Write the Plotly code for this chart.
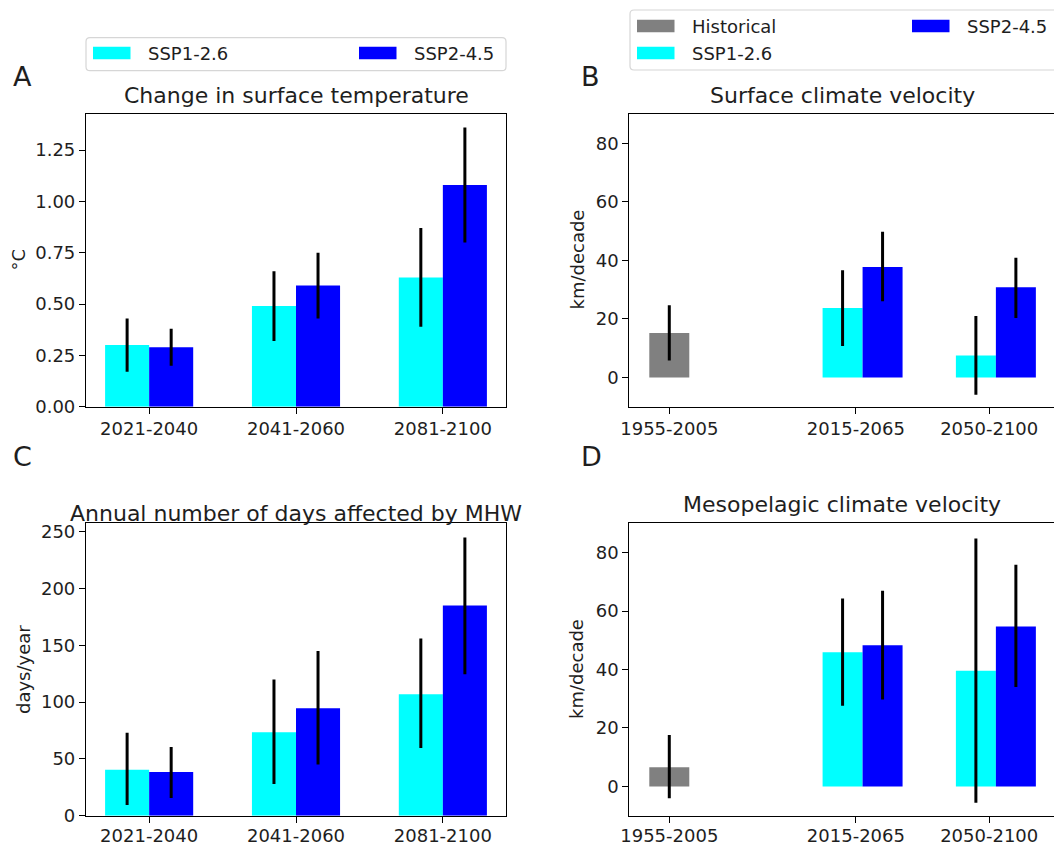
import plotly.graph_objects as go

# ---------------- data ----------------
periods_future = ["2021-2040", "2041-2060", "2081-2100"]
periods_velocity = ["1955-2005", "2015-2065", "2050-2100"]

# A: change in surface temperature (°C)
temp_ssp126 = [0.30, 0.49, 0.63]
temp_ssp126_lo = [0.17, 0.32, 0.39]
temp_ssp126_hi = [0.43, 0.66, 0.87]
temp_ssp245 = [0.29, 0.59, 1.08]
temp_ssp245_lo = [0.20, 0.43, 0.80]
temp_ssp245_hi = [0.38, 0.75, 1.36]

# C: annual number of days affected by MHW (days/year)
mhw_ssp126 = [40.5, 73.5, 107.0]
mhw_ssp126_lo = [9.5, 28.0, 59.5]
mhw_ssp126_hi = [73.0, 120.0, 156.0]
mhw_ssp245 = [38.5, 94.5, 185.0]
mhw_ssp245_lo = [15.5, 45.0, 124.5]
mhw_ssp245_hi = [60.5, 145.0, 245.0]

# B: surface climate velocity (km/decade)
surf_hist = [15.2]
surf_hist_lo = [5.8]
surf_hist_hi = [24.7]
surf_ssp126 = [23.7, 7.5]
surf_ssp126_lo = [10.7, -5.9]
surf_ssp126_hi = [36.6, 21.0]
surf_ssp245 = [37.7, 30.8]
surf_ssp245_lo = [26.0, 20.3]
surf_ssp245_hi = [49.8, 40.9]

# D: mesopelagic climate velocity (km/decade)
meso_hist = [6.6]
meso_hist_lo = [-4.0]
meso_hist_hi = [17.6]
meso_ssp126 = [45.9, 39.6]
meso_ssp126_lo = [27.6, -5.6]
meso_ssp126_hi = [64.3, 84.8]
meso_ssp245 = [48.3, 54.7]
meso_ssp245_lo = [29.7, 34.0]
meso_ssp245_hi = [66.9, 75.8]

temp_ticks = [0.0, 0.25, 0.5, 0.75, 1.0, 1.25]
mhw_ticks = [0, 50, 100, 150, 200, 250]
vel_ticks = [0, 20, 40, 60, 80]

series_names = ["Historical", "SSP1-2.6", "SSP2-4.5"]
series_colors = ["#808080", "#00FFFF", "#0000FF"]

# ---------------- geometry helpers ----------------
W, H = 1054, 846
FONT = "DejaVu Sans"
TXT = "#1e1e1e"


def px(x):
    return x / W


def py(y):
    return 1 - y / H


fig = go.Figure()

BAR_W = 0.3
fut_pos = [0, 1, 2]
vel_pos = [0, 1.4, 2.4]


def add_bar(x, y, lo, hi, color, xa, ya):
    fig.add_trace(go.Bar(
        x=x, y=y, width=BAR_W, marker=dict(color=color, line=dict(width=0)),
        error_y=dict(type="data", symmetric=False,
                     array=[h - v for h, v in zip(hi, y)],
                     arrayminus=[v - l for v, l in zip(y, lo)],
                     color="black", thickness=3, width=0),
        xaxis=xa, yaxis=ya, showlegend=False))


c_hist, c126, c245 = series_colors

# Panel A
add_bar([p - 0.15 for p in fut_pos], temp_ssp126, temp_ssp126_lo, temp_ssp126_hi, c126, "x", "y")
add_bar([p + 0.15 for p in fut_pos], temp_ssp245, temp_ssp245_lo, temp_ssp245_hi, c245, "x", "y")
# Panel B
add_bar(vel_pos[:1], surf_hist, surf_hist_lo, surf_hist_hi, c_hist, "x2", "y2")
add_bar([p - 0.1 for p in vel_pos[1:]], surf_ssp126, surf_ssp126_lo, surf_ssp126_hi, c126, "x2", "y2")
add_bar([p + 0.2 for p in vel_pos[1:]], surf_ssp245, surf_ssp245_lo, surf_ssp245_hi, c245, "x2", "y2")
# Panel C
add_bar([p - 0.15 for p in fut_pos], mhw_ssp126, mhw_ssp126_lo, mhw_ssp126_hi, c126, "x3", "y3")
add_bar([p + 0.15 for p in fut_pos], mhw_ssp245, mhw_ssp245_lo, mhw_ssp245_hi, c245, "x3", "y3")
# Panel D
add_bar(vel_pos[:1], meso_hist, meso_hist_lo, meso_hist_hi, c_hist, "x4", "y4")
add_bar([p - 0.1 for p in vel_pos[1:]], meso_ssp126, meso_ssp126_lo, meso_ssp126_hi, c126, "x4", "y4")
add_bar([p + 0.2 for p in vel_pos[1:]], meso_ssp245, meso_ssp245_lo, meso_ssp245_hi, c245, "x4", "y4")

axis_common = dict(showline=True, linecolor="black", linewidth=1.2, mirror=True,
                   ticks="outside", ticklen=6, tickwidth=1.2, tickcolor="black",
                   showgrid=False, zeroline=False, automargin=False,
                   tickfont=dict(family=FONT, size=18, color=TXT))

left_dom = [px(86), px(506)]
right_dom = [px(629.3), 1.0]
top_dom = [py(406.7), py(114)]
bot_dom = [py(815.7), py(523.3)]

fig.update_layout(
    width=W, height=H, margin=dict(l=0, r=0, t=0, b=0, autoexpand=False),
    plot_bgcolor="white", paper_bgcolor="white", barmode="overlay",
    font=dict(family=FONT, size=18, color=TXT),
    xaxis=dict(domain=left_dom, anchor="y", range=[-0.43, 2.43],
               tickvals=fut_pos, ticktext=periods_future, **axis_common),
    yaxis=dict(domain=top_dom, anchor="x", range=[0, 1.426],
               tickvals=temp_ticks, ticktext=[f"{v:.2f}" for v in temp_ticks], **axis_common),
    xaxis2=dict(domain=right_dom, anchor="y2", range=[-0.3, 2.886],
                tickvals=vel_pos, ticktext=periods_velocity, **axis_common),
    yaxis2=dict(domain=top_dom, anchor="x2", range=[-10, 90],
                tickvals=vel_ticks, **axis_common),
    xaxis3=dict(domain=left_dom, anchor="y3", range=[-0.43, 2.43],
                tickvals=fut_pos, ticktext=periods_future, ticklabelstandoff=-2, **axis_common),
    yaxis3=dict(domain=bot_dom, anchor="x3", range=[0, 257.4],
                tickvals=mhw_ticks, **axis_common),
    xaxis4=dict(domain=right_dom, anchor="y4", range=[-0.3, 2.886],
                tickvals=vel_pos, ticktext=periods_velocity, ticklabelstandoff=-2, **axis_common),
    yaxis4=dict(domain=bot_dom, anchor="x4", range=[-10, 90],
                tickvals=vel_ticks, **axis_common),
)

annotations = []


def text(x, y, s, size, xanchor="center", angle=0):
    annotations.append(dict(x=px(x), y=py(y), xref="paper", yref="paper", text=s,
                            showarrow=False, xanchor=xanchor, yanchor="middle",
                            textangle=angle,
                            font=dict(family=FONT, size=size, color=TXT)))


# panel titles
text(296, 95.3, "Change in surface temperature", 22)
text(842, 95.3, "Surface climate velocity", 22)
text(296, 513, "Annual number of days affected by MHW", 22)
text(842, 504, "Mesopelagic climate velocity", 22)
# panel letters
text(11, 76.5, "A", 27, xanchor="left")
text(579, 76.5, "B", 27, xanchor="left")
text(11, 456, "C", 27, xanchor="left")
text(579, 456, "D", 27, xanchor="left")
# axis titles
text(17.5, 260, "°C", 18, angle=-90)
text(23.5, 669.5, "days/year", 18, angle=-90)
text(576.5, 260, "km/decade", 18, angle=-90)
text(576.5, 669.5, "km/decade", 18, angle=-90)

shapes = []


def rect(x0, y0, x1, y1, fill):
    shapes.append(dict(type="rect", xref="paper", yref="paper",
                       x0=px(x0), x1=px(x1), y0=py(y1), y1=py(y0),
                       fillcolor=fill, line=dict(width=0)))


def rounded_box(x0, y0, x1, y1, r=4):
    # rounded legend frame, coordinates in pixels converted to paper fractions
    pts = [
        f"M{px(x0 + r)},{py(y0)}", f"L{px(x1 - r)},{py(y0)}",
        f"Q{px(x1)},{py(y0)} {px(x1)},{py(y0 + r)}", f"L{px(x1)},{py(y1 - r)}",
        f"Q{px(x1)},{py(y1)} {px(x1 - r)},{py(y1)}", f"L{px(x0 + r)},{py(y1)}",
        f"Q{px(x0)},{py(y1)} {px(x0)},{py(y1 - r)}", f"L{px(x0)},{py(y0 + r)}",
        f"Q{px(x0)},{py(y0)} {px(x0 + r)},{py(y0)}", "Z",
    ]
    shapes.append(dict(type="path", xref="paper", yref="paper", path=" ".join(pts),
                       fillcolor="white", line=dict(color="#d6d6d6", width=1.2)))


# legend A (SSP1-2.6, SSP2-4.5)
rounded_box(86, 37.7, 506, 70.7)
legA = [(series_names[1], series_colors[1], 93, 53), (series_names[2], series_colors[2], 359, 53)]
for name, col, x0, yc in legA:
    rect(x0, yc - 6.3, x0 + 37.5, yc + 6.3, col)
    text(x0 + 52.5, yc, name, 18, xanchor="left")

# legend B (Historical, SSP1-2.6 | SSP2-4.5)
rounded_box(630, 10, 1064, 70)
legB = [(series_names[0], series_colors[0], 637, 26), (series_names[1], series_colors[1], 637, 53),
        (series_names[2], series_colors[2], 912, 26)]
for name, col, x0, yc in legB:
    rect(x0, yc - 6.3, x0 + 37.5, yc + 6.3, col)
    text(x0 + 53, yc, name, 18, xanchor="left")

fig.update_layout(annotations=annotations, shapes=shapes)

fig.write_html("out.html", config={"displayModeBar": False},
               post_script="document.body.style.margin='0';")
